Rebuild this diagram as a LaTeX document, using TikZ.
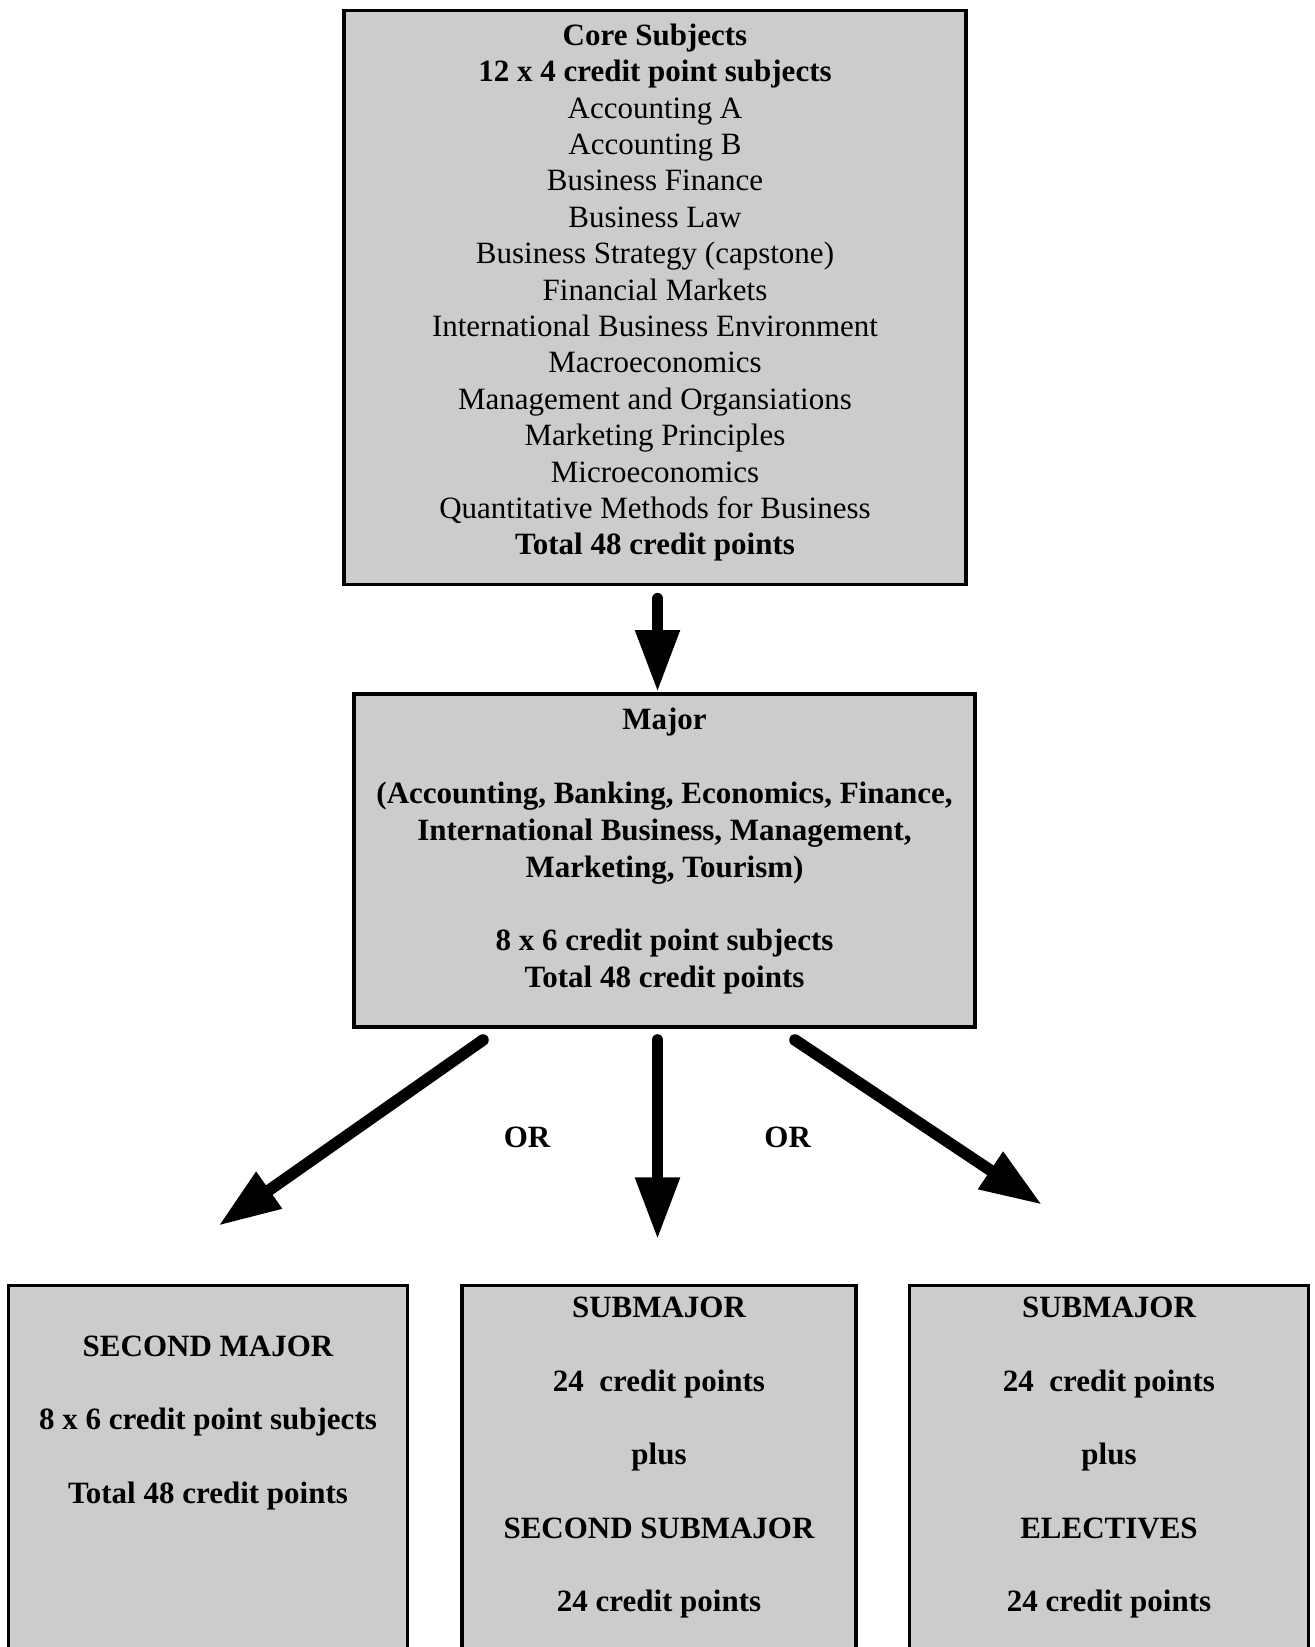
\documentclass[tikz,border=0pt]{standalone}
\usepackage{fontspec}
\setmainfont{Liberation Serif}
\usepackage{tikz}
\usetikzlibrary{positioning,arrows.meta}
\definecolor{shade}{RGB}{204,204,204}

\begin{document}
\begin{tikzpicture}[x=0.5pt,y=-0.5pt,
  box/.style={draw,line width=1.6pt,fill=shade,inner sep=0pt,align=center},
  lowtext/.style={inner sep=0pt,align=center,font=\fontsize{15.5}{36.7}\selectfont\bfseries},
  bigarrow/.style={line width=5.8pt,line cap=round,-{Triangle[length=31pt,width=21pt]}}]
  \useasboundingbox (0,0) rectangle (1315,1647);
  \clip (0,0) rectangle (1315,1647);

  \node[box,minimum width=311pt,minimum height=287pt,text depth=8.5pt,font=\fontsize{15.5}{18.2}\selectfont] (core) at (655,297.75)
    {\textbf{Core Subjects}\\ \textbf{12 x 4 credit point subjects}\\ Accounting A\\ Accounting B\\
     Business Finance\\ Business Law\\ Business Strategy (capstone)\\ Financial Markets\\
     International Business Environment\\ Macroeconomics\\ Management and Organsiations\\
     Marketing Principles\\ Microeconomics\\ Quantitative Methods for Business\\
     \textbf{Total 48 credit points}};

  \node[box,minimum width=310.5pt,minimum height=166.5pt,text depth=12.5pt,font=\fontsize{15.5}{18.4}\selectfont\bfseries] (major) at (664.5,860.5)
    {Major\\[18.4pt] (Accounting, Banking, Economics, Finance,\\ International Business, Management,\\
     Marketing, Tourism)\\[18.4pt] 8 x 6 credit point subjects\\ Total 48 credit points};

  \node[box,anchor=north,minimum width=199.5pt,minimum height=210pt] (second) at (208,1283.5) {};
  \node[box,anchor=north,minimum width=197pt,minimum height=210pt] (sub) at (659,1283.5) {};
  \node[box,anchor=north,minimum width=199.5pt,minimum height=210pt] (elect) at (1109,1283.5) {};

  \node[lowtext,below=26pt of second.north] (secondtext)
    {SECOND MAJOR\\ 8 x 6 credit point subjects\\ Total 48 credit points};
  \node[lowtext,below=6.7pt of sub.north] (subtext)
    {SUBMAJOR\\ 24~ credit points\\ plus\\ SECOND SUBMAJOR\\ 24 credit points};
  \node[lowtext,below=6.7pt of elect.north] (electtext)
    {SUBMAJOR\\ 24~ credit points\\ plus\\ ELECTIVES\\ 24 credit points};

  \node[font=\fontsize{15.5}{18}\selectfont\bfseries] (or1) at (527,1137.5) {OR};
  \node[font=\fontsize{15.5}{18}\selectfont\bfseries] (or2) at (787.7,1137.5) {OR};

  \coordinate (down1) at (657.5,598.7);
  \coordinate (down2) at (657.5,692);
  \coordinate (leftfrom) at (483,1040);
  \coordinate (leftto) at (218.5,1225.7);
  \coordinate (midfrom) at (657.5,1040);
  \coordinate (midto) at (657.5,1239.4);
  \coordinate (rightfrom) at (795,1040);
  \coordinate (rightto) at (1042,1204.7);

  \draw[bigarrow] (down1) -- (down2);
  \draw[bigarrow] (leftfrom) -- (leftto);
  \draw[bigarrow] (midfrom) -- (midto);
  \draw[bigarrow] (rightfrom) -- (rightto);
\end{tikzpicture}
\end{document}
